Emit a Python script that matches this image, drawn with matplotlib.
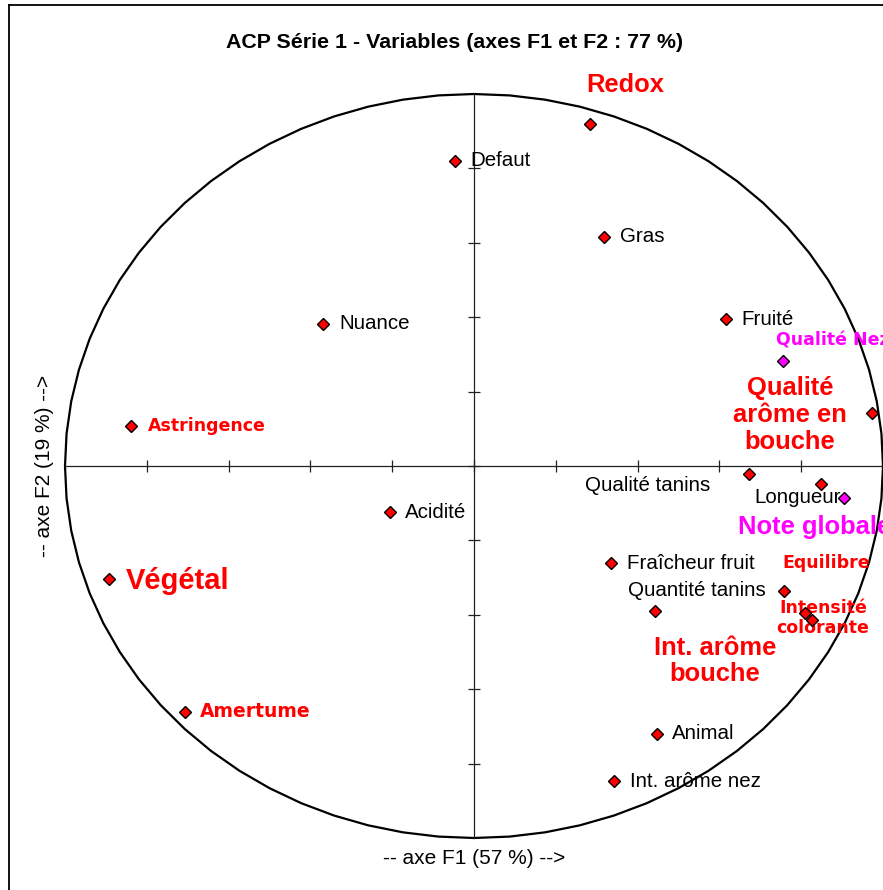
import numpy as np
import matplotlib.pyplot as plt
from matplotlib.lines import Line2D

plt.rcParams['font.family'] = ['Liberation Sans', 'DejaVu Sans']

# PCA loadings
variables = ['Redox', 'Defaut', 'Gras', 'Nuance', 'Fruité', 'Qualité Nez',
             'Qualité\narôme en\nbouche', 'Astringence', 'Qualité tanins',
             'Longueur', 'Note globale', 'Acidité', 'Végétal',
             'Fraîcheur fruit', 'Quantité tanins', 'Equilibre',
             'Int. arôme\nbouche', 'Intensité\ncolorante', 'Amertume',
             'Animal', 'Int. arôme nez']
f1 = [0.284, -0.046, 0.318, -0.369, 0.616, 0.756, 0.973, -0.839, 0.672,
      0.848, 0.905, -0.205, -0.892, 0.335, 0.443, 0.758, 0.809, 0.826,
      -0.707, 0.447, 0.342]
f2 = [0.919, 0.820, 0.616, 0.382, 0.395, 0.282, 0.142, 0.108, -0.022,
      -0.048, -0.086, -0.124, -0.304, -0.261, -0.390, -0.336, -0.395,
      -0.414, -0.661, -0.720, -0.847]
marker_col = ['red'] * len(variables)
marker_col[5] = '#ff00ff'
marker_col[10] = '#ff00ff'

title = 'ACP Série 1 - Variables (axes F1 et F2 : 77 %)'
xlabel = '-- axe F1 (57 %) -->'
ylabel = '-- axe F2 (19 %) -->'
ticks = [-0.8, -0.6, -0.4, -0.2, 0.0, 0.2, 0.4, 0.6, 0.8]

# label style and offset (pixels, right/down) per variable
styles = {
    'n': dict(color='black', fontsize=14.8),
    'L': dict(color='red', fontsize=18.4, fontweight='bold'),
    'XL': dict(color='red', fontsize=21, fontweight='bold'),
    'M': dict(color='red', fontsize=12.5, fontweight='bold',
              family=['DejaVu Sans']),
    'M2': dict(color='red', fontsize=13.5, fontweight='bold',
               family=['DejaVu Sans']),
    'PL': dict(color='#ff00ff', fontsize=18.4, fontweight='bold'),
    'PM': dict(color='#ff00ff', fontsize=12.5, fontweight='bold',
               family=['DejaVu Sans']),
}
lab = [('L', 35, -39, 'center'), ('n', 15, 0, 'left'), ('n', 16, 0, 'left'),
       ('n', 16, 0, 'left'), ('n', 15, 0, 'left'), ('PM', -7, -21, 'left'),
       ('L', -82, 2, 'center'), ('M', 17, 0, 'left'), ('n', -39, 11, 'right'),
       ('n', -23, 14, 'center'), ('PL', -106, 29, 'left'), ('n', 15, 0, 'left'),
       ('XL', 17, 2, 'left'), ('n', 16, 0, 'left'), ('n', 42, -21, 'center'),
       ('M', 42, -28, 'center'), ('L', -90, 48, 'center'),
       ('M', 11, -2, 'center'), ('M2', 15, 0, 'left'), ('n', 15, 0, 'left'),
       ('n', 16, 0, 'left')]

W, H = 883, 890
cx, cy, rx, ry = 474, 466, 409, 372

fig = plt.figure(figsize=(W / 100, H / 100), dpi=100)
ax = fig.add_axes([0, 0, 1, 1])
ax.set_xlim(-cx / rx, (W - cx) / rx)
ax.set_ylim((cy - H) / ry, cy / ry)
ax.axis('off')

# correlation circle and axes
t = np.linspace(0, 2 * np.pi, 73)
ax.plot(np.cos(t), np.sin(t), color='black', lw=1.6, clip_on=False)
ax.plot([-1, 1], [0, 0], color='#222222', lw=0.9)
ax.plot([0, 0], [-1, 1], color='#222222', lw=0.9)
ax.plot(ticks, [0] * len(ticks), ls='none', marker='|', ms=9, mew=0.9,
        color='#222222')
ax.plot([0] * len(ticks), ticks, ls='none', marker='_', ms=9, mew=0.9,
        color='#222222')

for i, name in enumerate(variables):
    ax.plot(f1[i], f2[i], marker='D', ms=6, mfc=marker_col[i], mec='black',
            mew=1.0, zorder=5)
    st, dx, dy, ha = lab[i]
    ax.annotate(name, (f1[i], f2[i]), xytext=(dx, -dy),
                textcoords='offset pixels', ha=ha, va='center',
                multialignment='center', linespacing=1.15, zorder=4,
                **styles[st])

fig.text(455 / W, 1 - 43 / H, title, ha='center', va='center',
         fontsize=15.4, fontweight='bold')
fig.text(cx / W, 1 - 858 / H, xlabel, ha='center', va='center', fontsize=15)
fig.text(45 / W, 1 - cy / H, ylabel, ha='center', va='center', fontsize=15,
         rotation=90)

# chart border (top and left visible)
fig.add_artist(Line2D([8.5 / W, 8.5 / W], [0, 1 - 5 / H], color='black',
                      lw=1.3, transform=fig.transFigure))
fig.add_artist(Line2D([8.5 / W, 1], [1 - 5 / H, 1 - 5 / H], color='black',
                      lw=1.3, transform=fig.transFigure))

fig.savefig('out.png', dpi=100, facecolor='white')
